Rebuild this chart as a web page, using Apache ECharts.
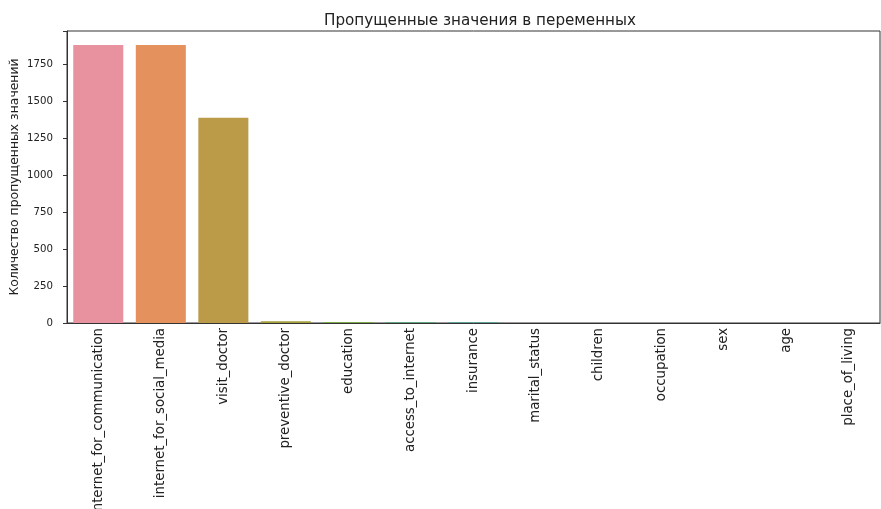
<!DOCTYPE html>
<html>
<head>
<meta charset="utf-8">
<script src="https://cdn.jsdelivr.net/npm/echarts@6/dist/echarts.min.js"></script>
<style>
  html, body { margin: 0; padding: 0; background: #fff; }
  #chart { width: 881px; height: 509px; }
</style>
</head>
<body>
<div id="chart"></div>
<script>
var categories = ['internet_for_communication', 'internet_for_social_media', 'visit_doctor',
    'preventive_doctor', 'education', 'access_to_internet', 'insurance', 'marital_status',
    'children', 'occupation', 'sex', 'age', 'place_of_living'];
var missingCounts = [1880, 1880, 1388, 12, 6, 5, 5, 0, 0, 0, 0, 0, 0];
var yTicks = [0, 250, 500, 750, 1000, 1250, 1500, 1750];
// seaborn husl palette, desaturated
var barColors = ['#e8929f', '#e4915e', '#bb9a48', '#a3a03c', '#7da84a', '#4fa874', '#4ba596',
    '#4ea2ae', '#56a0c8', '#8c98e2', '#c08ae4', '#e38bd1', '#e78bb5'];

var myChart = echarts.init(document.getElementById('chart'));
var font = 'DejaVu Sans';

var option = {
    animation: false,
    title: {
        text: 'Пропущенные значения в переменных',
        left: 475,
        top: 9,
        textAlign: 'center',
        textStyle: { fontFamily: font, fontSize: 15.2, fontWeight: 'normal', color: '#222' }
    },
    grid: {
        left: 67, right: 1, top: 31, bottom: 186,
        outerBoundsMode: 'none',
        containLabel: false,
        show: true, borderColor: '#333', borderWidth: 1, backgroundColor: 'transparent'
    },
    xAxis: {
        type: 'category',
        data: categories,
        axisLine: { lineStyle: { color: '#333' } },
        axisTick: { alignWithLabel: true, length: 4, lineStyle: { color: '#333' } },
        axisLabel: { rotate: 90, interval: 0, margin: 5, fontFamily: font, fontSize: 13.3, color: '#222' }
    },
    yAxis: {
        type: 'value',
        min: 0,
        max: 1974,
        interval: 250,
        name: 'Количество пропущенных значений',
        nameLocation: 'middle',
        nameGap: 46,
        nameMoveOverlap: false,
        nameTextStyle: { fontFamily: font, fontSize: 12.4, color: '#222' },
        splitLine: { show: false },
        axisLine: { show: true, lineStyle: { color: '#333' } },
        axisTick: { show: true, length: 4, lineStyle: { color: '#333' } },
        axisLabel: {
            margin: 14, fontFamily: font, fontSize: 10.2, color: '#222',
            formatter: function (v) { return yTicks.indexOf(v) >= 0 ? String(v) : ''; }
        }
    },
    series: [{
        type: 'bar',
        barCategoryGap: '20%',
        data: missingCounts.map(function (v, i) {
            return { value: v, itemStyle: { color: barColors[i] } };
        })
    }]
};

myChart.setOption(option);
</script>
</body>
</html>
